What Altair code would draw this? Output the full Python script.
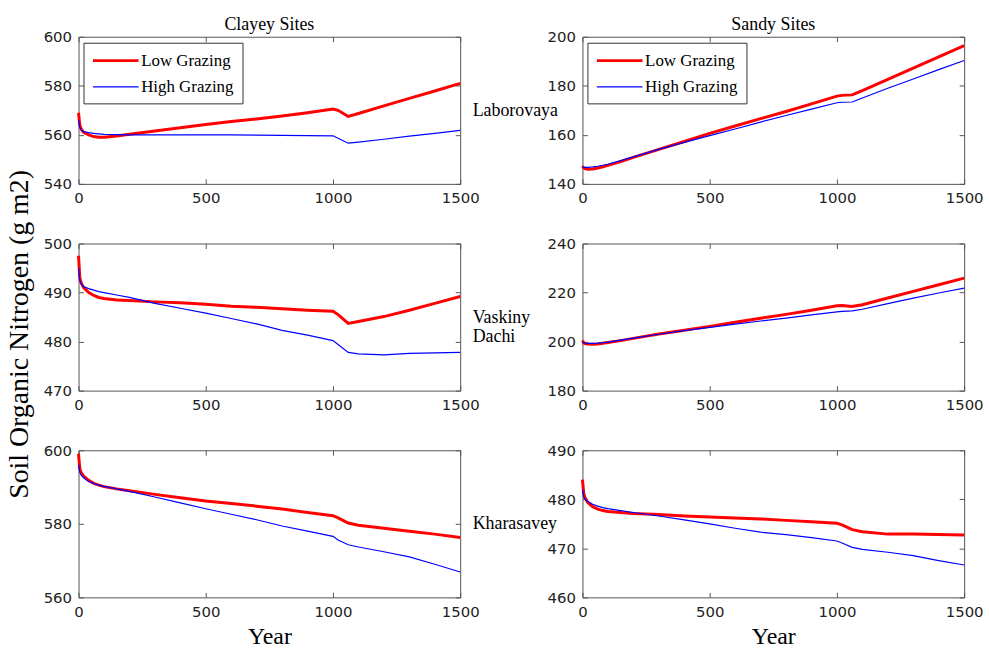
import altair as alt
import pandas as pd

YEARS = [0, 5, 10, 20, 40, 60, 80, 100, 150, 200, 300, 400, 500, 600, 700, 800,
         900, 1000, 1020, 1060, 1100, 1200, 1300, 1400, 1500]
SERIES = ["Low Grazing", "High Grazing"]
COL_TITLES = ["Clayey Sites", "Sandy Sites"]
SITES = ["Laborovaya", ["Vaskiny", "Dachi"], "Kharasavey"]
X_TICKS = [0, 500, 1000, 1500]

# Clayey sites
CL_LAB_LOW = [569, 564, 562.5, 561, 560, 559.3, 559, 559, 559.5, 560.2, 561.6, 562.9, 564.2,
              565.4, 566.5, 567.7, 569, 570.5, 570, 567.5, 568.7, 571.8, 574.9, 577.9, 581]
CL_LAB_HIGH = [566, 563, 562, 561.3, 560.9, 560.6, 560.4, 560.2, 560.1, 560, 560, 560, 560,
               560, 559.9, 559.8, 559.7, 559.6, 558.6, 556.6, 557, 558.2, 559.5, 560.6, 561.8]
CL_VAS_LOW = [497.5, 493, 492, 491, 490, 489.4, 489, 488.8, 488.5, 488.4, 488.1, 487.9, 487.6,
              487.2, 487, 486.7, 486.4, 486.2, 485.5, 483.7, 484.1, 485.1, 486.4, 487.8, 489.2]
CL_VAS_HIGH = [495, 492.5, 491.8, 491.2, 490.8, 490.5, 490.2, 490, 489.5, 489, 487.8, 486.8, 485.8,
               484.7, 483.6, 482.3, 481.3, 480.2, 479.4, 477.8, 477.5, 477.3, 477.6, 477.7, 477.8]
CL_KHA_LOW = [599, 595, 594, 593, 591.8, 591, 590.5, 590.1, 589.5, 589, 588, 587.1, 586.2,
              585.5, 584.8, 584, 583.1, 582.2, 581.6, 580.2, 579.6, 578.8, 578, 577.2, 576.3]
CL_KHA_HIGH = [596, 594, 593.3, 592.5, 591.5, 591, 590.5, 590.2, 589.5, 588.8, 587.3, 585.7, 584.1,
               582.6, 581.1, 579.4, 578, 576.6, 575.6, 574.3, 573.7, 572.4, 571, 569, 566.9]
# Sandy sites
SA_LAB_LOW = [147.2, 146.5, 146.2, 146, 146.1, 146.5, 147, 147.6, 149.1, 150.8, 154.1, 157.3, 160.6,
              163.6, 166.6, 169.5, 172.6, 175.8, 176.1, 176.3, 178, 182.6, 187.2, 191.8, 196.4]
SA_LAB_HIGH = [147, 146.8, 146.7, 146.7, 146.9, 147.2, 147.6, 148, 149.5, 151, 154.1, 156.9, 159.7,
               162.4, 165.2, 167.9, 170.5, 173.1, 173.3, 173.4, 175, 179, 182.8, 186.6, 190.3]
SA_VAS_LOW = [200.5, 199.5, 199.2, 199, 198.9, 199, 199.3, 199.6, 200.4, 201.3, 203.1, 204.6, 206.2,
              207.9, 209.5, 211.1, 212.8, 214.6, 214.7, 214.3, 215, 217.8, 220.5, 223.2, 225.9]
SA_VAS_HIGH = [199.8, 199.5, 199.4, 199.3, 199.3, 199.4, 199.6, 199.8, 200.6, 201.4, 203, 204.5, 205.8,
               207.1, 208.4, 209.6, 210.9, 212.1, 212.3, 212.5, 213.2, 215.5, 217.7, 219.8, 221.8]
SA_KHA_LOW = [484, 481.2, 480.3, 479.4, 478.5, 478, 477.7, 477.5, 477.3, 477.1, 476.9, 476.6, 476.4,
              476.2, 476, 475.7, 475.4, 475.1, 474.8, 473.8, 473.4, 472.9, 472.9, 472.8, 472.7]
SA_KHA_HIGH = [482, 480.5, 480, 479.6, 479, 478.6, 478.3, 478.1, 477.7, 477.3, 476.6, 475.8, 475,
               474.1, 473.3, 472.8, 472.2, 471.5, 471.1, 470.2, 469.8, 469.2, 468.5, 467.5, 466.6]

Y_DOMAINS = [[[540, 600], [140, 200]],
             [[470, 500], [180, 240]],
             [[560, 600], [460, 490]]]
Y_TICKS = [[[540, 560, 580, 600], [140, 160, 180, 200]],
           [[470, 480, 490, 500], [180, 200, 220, 240]],
           [[560, 580, 600], [460, 470, 480, 490]]]
DATA = [[(CL_LAB_LOW, CL_LAB_HIGH), (SA_LAB_LOW, SA_LAB_HIGH)],
        [(CL_VAS_LOW, CL_VAS_HIGH), (SA_VAS_LOW, SA_VAS_HIGH)],
        [(CL_KHA_LOW, CL_KHA_HIGH), (SA_KHA_LOW, SA_KHA_HIGH)]]

W, H = 384, 148
SERIF = "Liberation Serif"
SANS = "DejaVu Sans"
FRAME = "#555555"
TICK = 5


def panel(row, col):
    low, high = DATA[row][col]
    n = len(YEARS)
    df = pd.DataFrame({"Year": YEARS * 2, "N": low + high,
                       "Series": [SERIES[0]] * n + [SERIES[1]] * n})
    xs = alt.Scale(domain=[0, 1500], nice=False, zero=False)
    ys = alt.Scale(domain=Y_DOMAINS[row][col], nice=False, zero=False)

    legend = None
    if row == 0:
        legend = alt.Legend(title=None, orient="none", legendX=5, legendY=6, padding=8,
                            strokeColor="#333333", fillColor="white",
                            labelFont=SERIF, labelFontSize=17, labelColor="black",
                            symbolType="M-1,0H4.4", symbolSize=289, labelOffset=30,
                            rowPadding=9)

    if row == 1 and col == 0:
        y_title_kw = dict(title="Soil Organic Nitrogen (g m2)", titleFontSize=28,
                          titleX=-50, titleY=91)
    else:
        y_title_kw = dict(title=None)

    x_axis = alt.Axis(orient="bottom", values=X_TICKS, offset=-TICK, tickSize=TICK,
                      title="Year" if row == 2 else None, titleFontSize=24, titlePadding=5,
                      format="d")
    y_axis = alt.Axis(orient="left", values=Y_TICKS[row][col], offset=-TICK, tickSize=TICK,
                      format="d", **y_title_kw)

    lines = alt.Chart(df).mark_line().encode(
        x=alt.X("Year:Q", scale=xs, axis=x_axis),
        y=alt.Y("N:Q", scale=ys, axis=y_axis),
        color=alt.Color("Series:N", scale=alt.Scale(domain=SERIES, range=["#ff0000", "#0000ff"]),
                        legend=legend),
        strokeWidth=alt.StrokeWidth("Series:N", scale=alt.Scale(domain=SERIES, range=[3, 1.2]),
                                    legend=legend),
        order=alt.Order("Year:Q"),
    )

    r_kw = dict(title=None)
    if col == 0:
        r_kw = dict(title=SITES[row], titleAngle=0, titleAlign="left", titleBaseline="middle",
                    titleX=TICK + 12, titleY=H / 2, titleFontSize=18)
    frame = alt.Chart(df).mark_line(opacity=0).encode(
        x=alt.X("Year:Q", scale=xs,
                axis=alt.Axis(orient="top", values=X_TICKS, offset=-TICK, tickSize=TICK,
                              labels=False, title=None)),
        y=alt.Y("N:Q", scale=ys,
                axis=alt.Axis(orient="right", values=Y_TICKS[row][col], offset=-TICK,
                              tickSize=TICK, labels=False, **r_kw)),
        detail="Series:N",
    )
    ch = alt.layer(lines, frame).resolve_axis(x="independent", y="independent").properties(
        width=W, height=H)
    if row == 0:
        ch = ch.properties(title=alt.TitleParams(COL_TITLES[col], font=SERIF, fontSize=18,
                                                 fontWeight="normal", color="black", offset=-4,
                                                 frame="group", anchor="middle"))
    return ch


panels = [panel(r, c) for r in range(3) for c in range(2)]

chart = alt.concat(*panels, columns=2, spacing={"row": 60, "column": 123},
                   bounds="flush").resolve_scale(
    color="independent", strokeWidth="independent", x="independent", y="independent"
).configure_view(stroke=FRAME, strokeWidth=1).configure_axis(
    domain=False, grid=False, tickColor=FRAME, tickWidth=1,
    labelFont=SANS, labelFontSize=15, labelColor="#222222", labelPadding=7,
    labelFlush=False, labelOverlap=False,
    titleFont=SERIF, titleFontWeight="normal", titleColor="black"
).properties(padding={"left": 5, "top": 13, "right": 5, "bottom": 5}, background="white")

chart.save("out.html", embed_options={"renderer": "svg", "actions": False})
